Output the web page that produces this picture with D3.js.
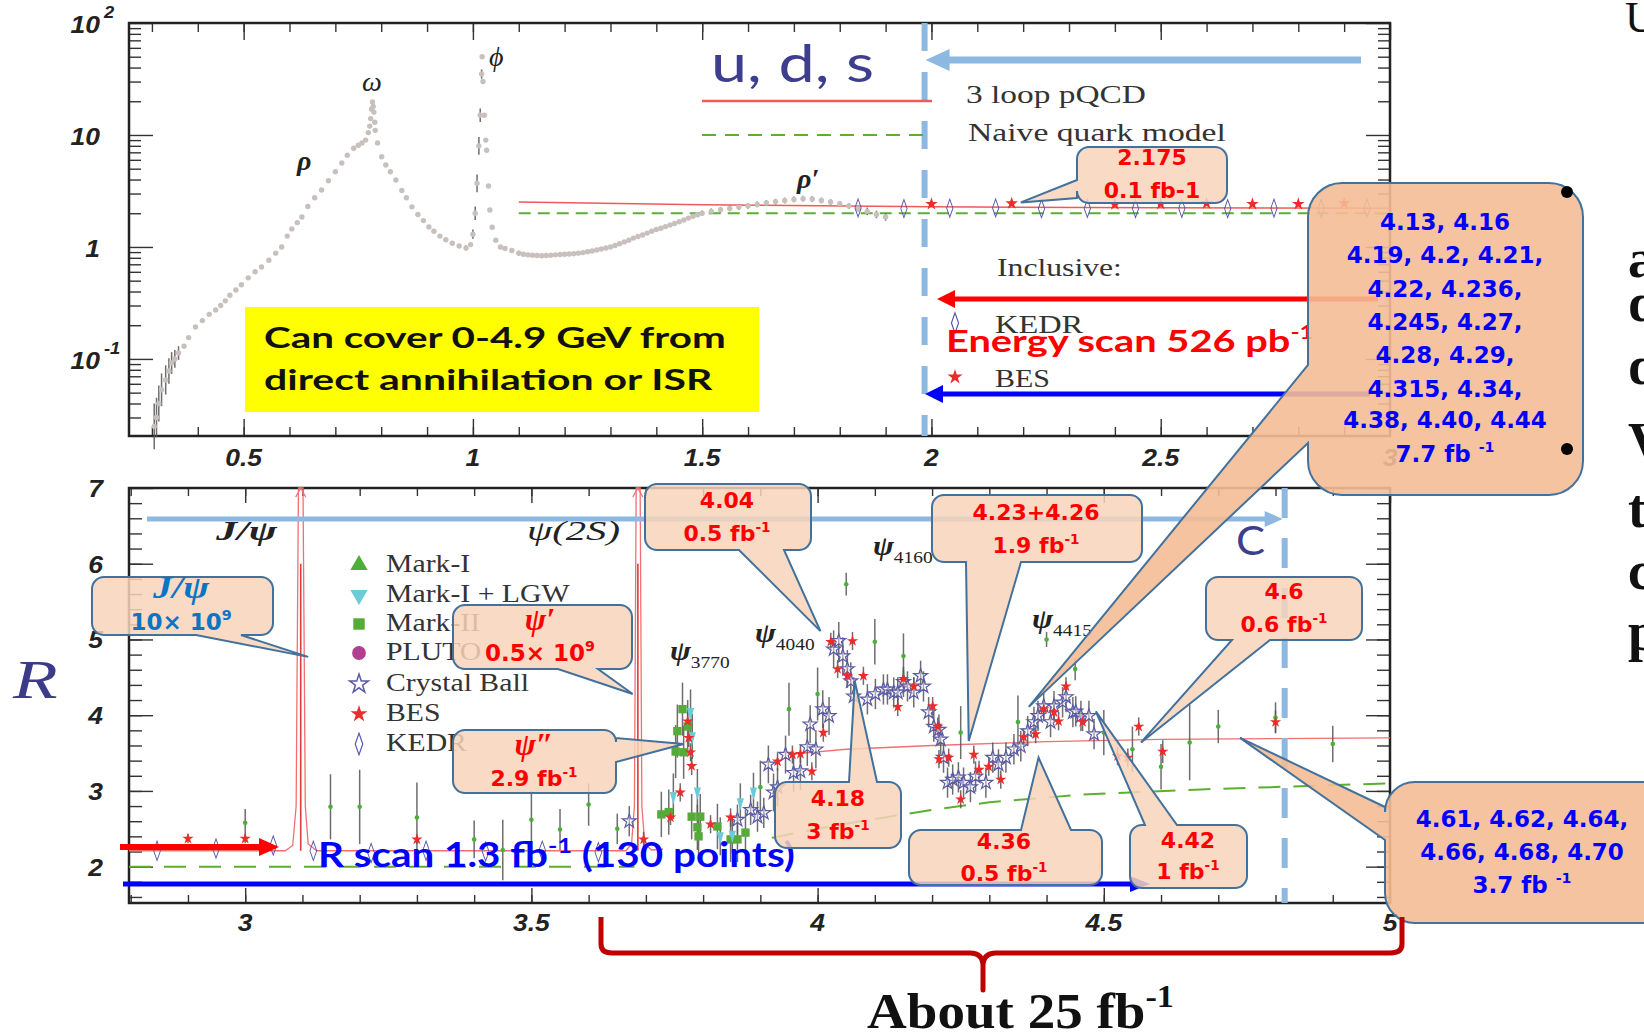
<!DOCTYPE html>
<html>
<head>
<meta charset="utf-8">
<script src="https://cdn.jsdelivr.net/npm/d3@7"></script>
<style>
  body { margin: 0; background: #fff; overflow: hidden; }
  svg { display: block; }
</style>
</head>
<body>
<svg id="chart"></svg>
<script>
// ---------------- data ----------------
// top panel, e+e- -> hadrons below 2 GeV: [E, R, error factor]
var lowMassR = [
  [0.305,0.025,1.6],[0.31,0.03,1.5],[0.315,0.04,1.45],[0.321,0.053,1.4],[0.33,0.065,1.35],
  [0.337,0.078,1.3],[0.343,0.092,1.25],[0.35,0.1,1.2],[0.358,0.113,1.15],[0.37,0.13,1],
  [0.38,0.155,1],[0.395,0.193,1],[0.41,0.22,1],[0.425,0.25,1],[0.439,0.274,1],[0.45,0.3,1],
  [0.46,0.33,1],[0.47,0.37,1],[0.483,0.413,1],[0.495,0.46,1],[0.51,0.53,1],[0.525,0.6,1],
  [0.539,0.663,1],[0.555,0.76,1],[0.57,0.88,1],[0.583,1.0,1],[0.595,1.25,1],[0.605,1.45,1],
  [0.617,1.65,1],[0.627,1.85,1],[0.64,2.3,1],[0.655,2.75,1],[0.67,3.23,1],[0.685,3.9,1],
  [0.70,4.7,1],[0.714,5.62,1],[0.726,6.6,1],[0.74,7.6,1],[0.75,8.1,1],[0.758,8.48,1],
  [0.766,9.0,1],[0.772,10.5,1],[0.775,12,1],[0.777,14,1],[0.779,17,1],[0.781,19.7,1],
  [0.7825,18,1],[0.784,16,1],[0.786,13,1],[0.787,11,1],
  [0.792,8.5,1],[0.801,6.4,1],[0.81,5.4,1],[0.82,4.7,1],[0.832,3.96,1],[0.845,3.2,1],
  [0.855,2.75,1],[0.867,2.28,1],[0.88,1.95,1],[0.892,1.72,1],[0.904,1.51,1],[0.915,1.38,1],
  [0.928,1.25,1],[0.941,1.16,1],[0.955,1.08,1],[0.97,1.02,1],[0.985,0.98,1.05],[0.995,1.05,1],
  [1.0,1.3,1.1],[1.005,2.0,1.15],[1.009,3.7,1.2],[1.013,8,1.2],[1.016,15,1.15],[1.019,35,1.1],
  [1.02,50,1],[1.022,30,1],[1.025,15,1],[1.028,9,1],[1.03,7.3,1],[1.034,3.5,1],[1.037,2.14,1],
  [1.042,1.5,1],[1.05,1.15,1],[1.06,1.0,1],[1.07,0.97,1],[1.085,0.93,1],[1.10,0.88,1.05],
  [1.11,0.86,1],[1.12,0.85,1],[1.13,0.845,1],[1.14,0.84,1],[1.15,0.835,1],[1.16,0.84,1],
  [1.17,0.845,1],[1.18,0.85,1],[1.19,0.855,1],[1.20,0.86,1],[1.21,0.865,1],[1.22,0.87,1],
  [1.23,0.88,1],[1.24,0.89,1],[1.25,0.905,1],[1.26,0.92,1],[1.27,0.94,1],[1.28,0.96,1],
  [1.29,0.98,1],[1.30,1.0,1],[1.31,1.03,1],[1.32,1.07,1],[1.33,1.11,1],[1.34,1.15,1],
  [1.35,1.2,1],[1.36,1.24,1],[1.37,1.28,1],[1.38,1.33,1],[1.39,1.38,1],[1.40,1.43,1],
  [1.41,1.47,1],[1.42,1.52,1],[1.43,1.57,1],[1.44,1.62,1],[1.45,1.68,1],[1.46,1.74,1],
  [1.47,1.81,1],[1.48,1.88,1],[1.49,1.94,1],[1.50,2.0,1.06],[1.52,2.08,1.06],[1.54,2.15,1.06],
  [1.56,2.21,1.06],[1.58,2.27,1.06],[1.60,2.33,1.06],[1.62,2.4,1.06],[1.64,2.47,1.06],
  [1.66,2.54,1.06],[1.68,2.6,1.06],[1.70,2.66,1.06],[1.72,2.7,1.06],[1.74,2.68,1.06],
  [1.76,2.6,1.06],[1.78,2.52,1.06],[1.80,2.43,1.06],[1.82,2.32,1.06],[1.84,2.2,1.06],
  [1.86,2.08,1.08],[1.88,1.95,1.08],[1.90,1.85,1.08]
];
var topKedr = [[1.84,2.23],[1.94,2.2],[2.04,2.22],[2.14,2.23],[2.24,2.2],[2.34,2.21],[2.445,2.2],
  [2.546,2.21],[2.646,2.2],[2.747,2.22],[2.85,2.2],[2.95,2.22]];
var topBes = [[2.0,2.42],[2.175,2.45],[2.4,2.4],[2.5,2.42],[2.6,2.45],[2.7,2.42],[2.8,2.42],[2.9,2.45]];
var pqcdTop = [[1.1,2.52],[1.5,2.38],[2.0,2.28],[2.5,2.24],[3.0,2.22]];
var naiveTop = [[1.1,2.0],[3.0,2.0]];

// bottom panel: [E, R, error]
var markI = [[3.0,2.58,0.18],[3.149,2.79,0.43],[3.2,2.79,0.49],[3.3,2.65,0.46],[3.4,2.36,0.25],
  [3.45,2.22,0.4],[3.5,2.62,0.38],[3.55,2.49,0.27],[3.6,2.82,0.28],[3.65,2.5,0.2],[3.9,3.05,0.35],
  [3.95,4.08,0.35],[4.0,4.28,0.35],[4.05,5.73,0.15],[4.1,4.97,0.3],[4.15,4.78,0.3],[4.25,3.77,0.35],
  [4.35,3.91,0.35],[4.4,5.0,0.1],[4.45,4.61,0.15],[4.5,3.77,0.3],[4.55,3.55,0.3],[4.6,3.32,0.3],
  [4.65,3.64,0.5],[4.7,3.85,0.22],[4.8,3.97,0.2],[4.9,3.62,0.24]];
var markILgw = [[3.748,2.93,0.3],[3.778,4.04,0.3],[3.781,3.72,0.3],[3.79,2.99,0.3],[3.83,2.40,0.25],
  [3.851,2.42,0.25],[3.865,2.85,0.25],[3.888,2.99,0.25]];
var markII = [[3.727,2.69,0.3],[3.74,2.72,0.3],[3.752,3.52,0.35],[3.755,3.79,0.35],[3.764,4.08,0.35],
  [3.766,3.51,0.35],[3.773,3.85,0.35],[3.78,2.66,0.3],[3.79,2.52,0.3],[3.792,2.40,0.3],
  [3.795,2.66,0.3],[3.825,2.53,0.3],[3.848,2.36,0.3],[3.86,2.36,0.3],[3.874,2.45,0.3]];
var crystalBall = [[3.671,2.6,0.2],[3.86,2.62,0.2],[3.883,2.75,0.2],[3.895,2.66,0.2],[3.906,2.71,0.2],
  [3.914,3.35,0.25],[3.923,2.98,0.25],[3.93,3.05,0.25],[3.944,3.48,0.25],[3.958,3.24,0.25],
  [3.97,3.26,0.25],[3.982,3.58,0.25],[3.987,3.88,0.25],[3.997,3.55,0.25],[4.009,4.08,0.25],
  [4.02,3.99,0.25],[4.028,4.87,0.25],[4.037,4.98,0.25],[4.044,4.78,0.25],[4.052,4.61,0.25],
  [4.058,4.45,0.25],[4.063,4.25,0.25],[4.087,4.21,0.2],[4.101,4.28,0.2],[4.115,4.34,0.2],
  [4.122,4.34,0.2],[4.133,4.30,0.2],[4.14,4.30,0.2],[4.15,4.44,0.2],[4.157,4.38,0.2],
  [4.168,4.30,0.2],[4.18,4.52,0.2],[4.185,4.38,0.2],[4.194,4.04,0.2],[4.203,3.85,0.2],
  [4.212,3.81,0.2],[4.215,3.68,0.2],[4.22,3.44,0.2],[4.227,3.11,0.2],[4.236,3.15,0.2],
  [4.246,3.18,0.2],[4.255,3.11,0.2],[4.267,3.05,0.2],[4.276,3.19,0.2],[4.294,3.11,0.2],
  [4.306,3.44,0.2],[4.316,3.35,0.2],[4.329,3.44,0.2],[4.343,3.55,0.2],[4.355,3.59,0.2],
  [4.367,3.79,0.2],[4.378,3.91,0.2],[4.385,3.99,0.2],[4.395,4.12,0.2],[4.407,3.91,0.2],
  [4.413,4.12,0.2],[4.428,4.17,0.2],[4.434,4.24,0.2],[4.446,4.04,0.2],[4.451,4.05,0.2],
  [4.46,3.99,0.2],[4.474,3.99,0.2],[4.483,3.75,0.2]];
var besLow = [[2.9,2.37,0.06],[3.0,2.37,0.06],[3.3,2.36,0.06],[3.696,2.36,0.1],[3.743,2.65,0.1],
  [3.76,2.98,0.12],[3.773,3.92,0.12],[3.775,3.7,0.12],[3.778,3.51,0.12],[3.78,3.33,0.12],
  [3.813,2.56,0.12],[3.848,2.65,0.12],[3.93,3.39,0.12],[3.956,3.48,0.12],[3.97,3.49,0.12],
  [3.99,3.26,0.12],[4.01,3.77,0.12],[4.023,4.97,0.12],[4.035,4.61,0.12],[4.052,4.52,0.12],
  [4.061,4.98,0.12],[4.08,4.52,0.12],[4.14,4.11,0.12],[4.15,4.48,0.12],[4.168,4.38,0.12],
  [4.201,4.12,0.12],[4.21,3.85,0.12],[4.212,3.42,0.12],[4.229,3.44,0.12],[4.25,2.89,0.12],
  [4.273,3.48,0.12],[4.282,3.28,0.12],[4.299,3.32,0.12],[4.32,3.15,0.12],[4.36,3.71,0.12],
  [4.381,3.75,0.12],[4.395,4.08,0.12],[4.413,4.04,0.12],[4.421,3.92,0.12],[4.434,4.38,0.12],
  [4.463,3.91,0.12],[4.524,3.46,0.12],[4.542,3.44,0.12],[4.561,3.85,0.12],[4.603,3.52,0.15],
  [4.8,3.91,0.15]];
var kedrLow = [[2.846,2.21],[2.949,2.24],[3.049,2.28],[3.119,2.21],[3.22,2.18],[3.316,2.21],
  [3.42,2.2],[3.519,2.21],[3.617,2.19]];
var pqcdLow = [[2.797,2.21],[3.07,2.21],[3.083,2.28],[3.089,2.8],[3.093,7.0],[3.101,7.0],[3.105,2.8],
  [3.11,2.3],[3.125,2.21],[3.665,2.21],[3.675,2.3],[3.68,2.8],[3.683,7.0],[3.69,7.0],[3.693,2.8],
  [3.698,2.3],[3.71,2.22],[3.73,2.23]];
var pqcdCharm = [[3.96,3.49],[4.05,3.55],[4.2,3.60],[4.4,3.65],[4.6,3.68],[4.8,3.69],[5.0,3.70]];
var naiveLow = [[2.797,2.0],[3.68,2.0]];
var naiveCharm = [[3.92,2.38],[4.0,2.5],[4.1,2.63],[4.2,2.75],[4.3,2.85],[4.46,2.95],[4.67,3.02],[5.0,3.10]];
var resonances = [3.097, 3.686];

// ticks
var topXTicks = [0.5, 1, 1.5, 2, 2.5, 3];
var topXLabels = ["0.5", "1", "1.5", "2", "2.5", "3"];
var topYTicks = [0.1, 1, 10, 100];
var topYLabels = [["10", "-1"], ["1", ""], ["10", ""], ["10", "2"]];
var lowXTicks = [3, 3.5, 4, 4.5, 5];
var lowXLabels = ["3", "3.5", "4", "4.5", "5"];
var lowYTicks = [2, 3, 4, 5, 6, 7];

var legendNames = ["Mark-I", "Mark-I + LGW", "Mark-II", "PLUTO", "Crystal Ball", "BES", "KEDR"];

// ---------------- setup ----------------
var svg = d3.select("#chart").attr("width", 1644).attr("height", 1034);

var xTop = d3.scaleLinear().domain([0.25, 3.0]).range([129, 1390]);
var yTop = d3.scaleLog().domain([0.0205, 100]).range([436, 23]);
var xLow = d3.scaleLinear().domain([2.797, 5.0]).range([129, 1390]);
var yLow = d3.scaleLinear().domain([1.52, 7.0]).range([903, 488]);

var LB = "#8cb8e2", NAVY = "#3e3e8e", RED = "#ff0000", BLUE = "#0000ff";
var topCut = 1.985, lowCut = 4.816;

// text helper: parts = [[str, "sup"|"sub"|undefined], ...]
function txt(parent, x, y, parts, o) {
  o = Object.assign({font: "Liberation Serif", size: 20, weight: "normal", style: "normal",
    color: "#222", anchor: "start", sx: 1}, o);
  if (typeof parts === "string") parts = [[parts]];
  var g = parent.append("g");
  var t = g.append("text")
    .attr("font-family", o.font).attr("font-size", o.size)
    .attr("font-weight", o.weight).attr("font-style", o.style)
    .attr("fill", o.color).attr("text-anchor", o.anchor);
  var shift = 0;
  parts.forEach(function(p) {
    var s = p[1] === "sup" ? -0.42 * o.size : p[1] === "sub" ? 0.28 * o.size : 0;
    var ts = t.append("tspan").text(p[0]).attr("dy", s - shift);
    if (p[1]) ts.attr("font-size", o.size * 0.62);
    if (p[1] === "sub") ts.attr("font-style", "normal").attr("font-weight", "normal");
    shift = s;
  });
  var sx = o.sx;
  if (o.fit) sx = o.fit / t.node().getBBox().width;
  g.attr("transform", "translate(" + x + "," + y + ") scale(" + sx + ",1)");
  return g;
}

function tickSet(axis, vals, len, tr) {
  var g = svg.append("g").attr("transform", tr)
    .call(axis.tickValues(vals).tickSize(-len).tickSizeOuter(0).tickFormat(""));
  g.select(".domain").remove();
  g.selectAll("text").remove();
  g.selectAll("line").attr("stroke", "#333").attr("stroke-width", 1.4);
}

function hArrow(x1, x2, y, color, w, hl, hw) {
  var dir = x1 > x2 ? 1 : -1;
  svg.append("line").attr("x1", x1).attr("x2", x2 + dir * hl * 0.8)
    .attr("y1", y).attr("y2", y).attr("stroke", color).attr("stroke-width", w);
  svg.append("path")
    .attr("d", "M" + x2 + "," + y + "L" + (x2 + dir * hl) + "," + (y - hw) +
      "L" + (x2 + dir * hl) + "," + (y + hw) + "Z")
    .attr("fill", color);
}

function errBars(data, xs, ys, isLog) {
  svg.append("g").selectAll("line").data(data.filter(function(d) { return isLog ? d[2] > 1 : d[2] > 0; }))
    .join("line")
    .attr("x1", function(d) { return xs(d[0]); }).attr("x2", function(d) { return xs(d[0]); })
    .attr("y1", function(d) { return ys(isLog ? d[1] * d[2] : d[1] + d[2]); })
    .attr("y2", function(d) { return ys(isLog ? d[1] / d[2] : d[1] - d[2]); })
    .attr("stroke", "#555").attr("stroke-width", 1.5).attr("opacity", 0.85);
}

function symbols(data, xs, ys, type, size, fill, stroke, sy) {
  svg.append("g").selectAll("path").data(data).join("path")
    .attr("d", d3.symbol().type(type).size(size))
    .attr("transform", function(d) {
      return "translate(" + xs(d[0]) + "," + ys(d[1]) + ")" + (sy ? " scale(0.7," + sy + ")" : "");
    })
    .attr("fill", fill).attr("stroke", stroke || "none").attr("stroke-width", 1.2);
}

// ---------------- frames & ticks ----------------
var topXMinor = d3.range(3, 30).map(function(i) { return i / 10; });
var topYMinor = [];
[0.01, 0.1, 1, 10].forEach(function(dec) {
  d3.range(2, 10).forEach(function(k) { if (k * dec > 0.0205) topYMinor.push(k * dec); });
});
var lowXMinor = d3.range(28, 50).map(function(i) { return i / 10; });
var lowYMinor = d3.range(8, 35).map(function(i) { return i / 5; });

tickSet(d3.axisBottom(xTop), topXMinor, 9, "translate(0,436)");
tickSet(d3.axisBottom(xTop), topXTicks, 17, "translate(0,436)");
tickSet(d3.axisTop(xTop), topXMinor, 9, "translate(0,23)");
tickSet(d3.axisTop(xTop), topXTicks, 17, "translate(0,23)");
tickSet(d3.axisLeft(yTop), topYMinor, 12, "translate(129,0)");
tickSet(d3.axisLeft(yTop), topYTicks, 24, "translate(129,0)");
tickSet(d3.axisRight(yTop), topYMinor, 12, "translate(1390,0)");
tickSet(d3.axisRight(yTop), topYTicks, 24, "translate(1390,0)");

tickSet(d3.axisBottom(xLow), lowXMinor, 8, "translate(0,903)");
tickSet(d3.axisBottom(xLow), lowXTicks, 15, "translate(0,903)");
tickSet(d3.axisTop(xLow), lowXMinor, 8, "translate(0,488)");
tickSet(d3.axisTop(xLow), lowXTicks, 15, "translate(0,488)");
tickSet(d3.axisLeft(yLow), lowYMinor, 13, "translate(129,0)");
tickSet(d3.axisLeft(yLow), lowYTicks, 24, "translate(129,0)");
tickSet(d3.axisRight(yLow), lowYMinor, 13, "translate(1390,0)");
tickSet(d3.axisRight(yLow), lowYTicks, 24, "translate(1390,0)");

svg.append("rect").attr("x", 129).attr("y", 23).attr("width", 1261).attr("height", 413)
  .attr("fill", "none").attr("stroke", "#222").attr("stroke-width", 2.5);
svg.append("rect").attr("x", 129).attr("y", 488).attr("width", 1261).attr("height", 415)
  .attr("fill", "none").attr("stroke", "#222").attr("stroke-width", 2.5);

// tick labels
var tickFont = {font: "Liberation Sans", weight: "bold", style: "italic", size: 23, sx: 1.15, color: "#222"};
topXTicks.forEach(function(v, i) {
  txt(svg, xTop(v), 466, topXLabels[i], Object.assign({}, tickFont, {anchor: "middle"}));
});
topYTicks.forEach(function(v, i) {
  txt(svg, 100, yTop(v) + 10, topYLabels[i][0], Object.assign({}, tickFont, {anchor: "end"}));
  if (topYLabels[i][1]) txt(svg, 104, yTop(v) - 5, topYLabels[i][1], Object.assign({}, tickFont, {size: 16}));
});
lowXTicks.forEach(function(v, i) {
  txt(svg, xLow(v), 931, lowXLabels[i], Object.assign({}, tickFont, {anchor: "middle"}));
});
lowYTicks.forEach(function(v) {
  txt(svg, 103, yLow(v) + 9, String(v), Object.assign({}, tickFont, {anchor: "end"}));
});
txt(svg, 13, 698, "R", {font: "Liberation Serif", style: "italic", size: 54, fit: 46, color: "#3b3b88"});

// ---------------- top panel data ----------------
var lineTop = d3.line().x(function(d) { return xTop(d[0]); }).y(function(d) { return yTop(d[1]); });
svg.append("path").attr("d", lineTop(naiveTop)).attr("fill", "none")
  .attr("stroke", "#5cb030").attr("stroke-width", 2).attr("stroke-dasharray", "12,7");
svg.append("path").attr("d", lineTop(pqcdTop)).attr("fill", "none")
  .attr("stroke", "#f05a5a").attr("stroke-width", 1.5);
errBars(lowMassR, xTop, yTop, true);
svg.append("g").selectAll("circle").data(lowMassR).join("circle")
  .attr("cx", function(d) { return xTop(d[0]); }).attr("cy", function(d) { return yTop(d[1]); })
  .attr("r", 2.7).attr("fill", "#c8c0bc");
symbols(topKedr, xTop, yTop, d3.symbolDiamond, 70, "none", "#5656aa", 1.15);
symbols(topBes, xTop, yTop, d3.symbolStar, 50, "#ee2b2b");

// ---------------- bottom panel data ----------------
var lineLow = d3.line().x(function(d) { return xLow(d[0]); }).y(function(d) { return yLow(d[1]); });
svg.append("path").attr("d", lineLow(naiveLow)).attr("fill", "none")
  .attr("stroke", "#5cb030").attr("stroke-width", 2).attr("stroke-dasharray", "22,13");
svg.append("path").attr("d", lineLow(naiveCharm)).attr("fill", "none")
  .attr("stroke", "#5cb030").attr("stroke-width", 2).attr("stroke-dasharray", "22,13");
svg.append("path").attr("d", lineLow(pqcdLow)).attr("fill", "none")
  .attr("stroke", "#f07070").attr("stroke-width", 1.3);
svg.append("path").attr("d", lineLow(pqcdCharm)).attr("fill", "none")
  .attr("stroke", "#f07070").attr("stroke-width", 1.3);
resonances.forEach(function(m) {
  svg.append("line").attr("x1", xLow(m)).attr("x2", xLow(m))
    .attr("y1", yLow(2.21)).attr("y2", yLow(6.0)).attr("stroke", "#e03a3a").attr("stroke-width", 1.6);
  var ax = xLow(m), ay = yLow(7.0);
  svg.append("path").attr("d", "M" + (ax - 5) + "," + (ay + 9) + "L" + ax + "," + ay + "L" + (ax + 5) + "," + (ay + 9))
    .attr("fill", "none").attr("stroke", "#f07070").attr("stroke-width", 1.3);
});

[markI, markILgw, markII, crystalBall, besLow].forEach(function(s) { errBars(s, xLow, yLow, false); });
svg.append("g").selectAll("circle").data(markI).join("circle")
  .attr("cx", function(d) { return xLow(d[0]); }).attr("cy", function(d) { return yLow(d[1]); })
  .attr("r", 2.3).attr("fill", "#4caf3a");
symbols(markII, xLow, yLow, d3.symbolSquare, 70, "#55aa3a");
symbols(markILgw, xLow, yLow, d3.symbolTriangle, 45, "#6ccbd6", null, -1.4);
symbols(crystalBall, xLow, yLow, d3.symbolStar, 60, "rgba(255,255,255,0.4)", "#5a5aa5");
symbols(besLow, xLow, yLow, d3.symbolStar, 40, "#ee2b2b");
symbols(kedrLow, xLow, yLow, d3.symbolDiamond, 80, "none", "#5656aa", 1.15);

// ---------------- guide lines & arrows ----------------
svg.append("line").attr("x1", xTop(topCut)).attr("x2", xTop(topCut)).attr("y1", 23).attr("y2", 436)
  .attr("stroke", LB).attr("stroke-width", 6).attr("stroke-dasharray", "28,21");
svg.append("line").attr("x1", xLow(lowCut)).attr("x2", xLow(lowCut)).attr("y1", 488).attr("y2", 903)
  .attr("stroke", LB).attr("stroke-width", 6).attr("stroke-dasharray", "30,20");
hArrow(1361, xTop(topCut) + 1, 60, LB, 7, 24, 11);
hArrow(1378, 937, 299, RED, 5, 18, 9);
hArrow(1370, 925, 394, BLUE, 5, 18, 9);
hArrow(147, xLow(lowCut) - 2, 519, LB, 5, 18, 8);
hArrow(120, 279, 847, RED, 6, 20, 9);
hArrow(123, 1150, 884, BLUE, 5, 20, 8);

// ---------------- labels ----------------
var greek = {font: "Liberation Serif", style: "italic", size: 28, color: "#222"};
txt(svg, 362, 91, "\u03c9", greek);
txt(svg, 489, 66, "\u03d5", greek);
txt(svg, 297, 170, "\u03c1", Object.assign({}, greek, {weight: "bold"}));
txt(svg, 797, 188, "\u03c1\u2032", Object.assign({}, greek, {weight: "bold"}));
txt(svg, 216, 540, "J/\u03c8", Object.assign({}, greek, {weight: "bold", fit: 63}));
txt(svg, 527, 540, "\u03c8(2S)", Object.assign({}, greek, {fit: 93}));
txt(svg, 670, 660, [["\u03c8"], ["3770", "sub"]], Object.assign({}, greek, {weight: "bold", fit: 60}));
txt(svg, 755, 642, [["\u03c8"], ["4040", "sub"]], Object.assign({}, greek, {weight: "bold", fit: 60}));
txt(svg, 873, 555, [["\u03c8"], ["4160", "sub"]], Object.assign({}, greek, {weight: "bold", fit: 60}));
txt(svg, 1032, 628, [["\u03c8"], ["4415", "sub"]], Object.assign({}, greek, {weight: "bold", fit: 60}));

// top legend
svg.append("line").attr("x1", 702).attr("x2", 932).attr("y1", 101).attr("y2", 101)
  .attr("stroke", "#f05a5a").attr("stroke-width", 2.5);
svg.append("line").attr("x1", 702).attr("x2", 932).attr("y1", 135).attr("y2", 135)
  .attr("stroke", "#5cb030").attr("stroke-width", 2.2).attr("stroke-dasharray", "14,9");
var serif = {font: "Liberation Serif", size: 26, color: "#333"};
txt(svg, 966, 103, "3 loop pQCD", Object.assign({}, serif, {fit: 180}));
txt(svg, 968, 141, "Naive quark model", Object.assign({}, serif, {fit: 258}));
txt(svg, 997, 276, "Inclusive:", Object.assign({}, serif, {fit: 125}));
txt(svg, 995, 333, "KEDR", Object.assign({}, serif, {fit: 89}));
txt(svg, 995, 387, "BES", Object.assign({}, serif, {fit: 55}));
svg.append("path").attr("d", d3.symbol().type(d3.symbolDiamond).size(90))
  .attr("transform", "translate(955,323) scale(0.7,1.15)").attr("fill", "none").attr("stroke", "#5656aa").attr("stroke-width", 1.5);
svg.append("path").attr("d", d3.symbol().type(d3.symbolStar).size(70))
  .attr("transform", "translate(955,377)").attr("fill", "#ee2b2b");

txt(svg, 711, 82, "u,  d,  s", {font: "Lato", size: 52, color: NAVY, fit: 163});
txt(svg, 1236, 555, "C", {font: "Lato", size: 40, color: NAVY, fit: 29});

// bottom legend
var legY = [572, 602, 631, 660, 691, 721, 751];
var legMarks = [
  [d3.symbolTriangle, 130, "#4caf3a", "none", 1],
  [d3.symbolTriangle, 130, "#6ccbd6", "none", -1],
  [d3.symbolSquare, 130, "#55aa3a", "none", 1],
  [d3.symbolCircle, 150, "#b0408f", "none", 1],
  [d3.symbolStar, 110, "none", "#5a5aa5", 1],
  [d3.symbolStar, 90, "#ee2b2b", "none", 1],
  [d3.symbolDiamond, 100, "none", "#5656aa", 1]
];
legendNames.forEach(function(name, i) {
  var m = legMarks[i];
  svg.append("path").attr("d", d3.symbol().type(m[0]).size(m[1]))
    .attr("transform", "translate(359," + (legY[i] - 7) + ")" + (m[4] < 0 ? " scale(1,-1)" : "") + (i === 6 ? " scale(0.7,1.15)" : ""))
    .attr("fill", m[2]).attr("stroke", m[3]).attr("stroke-width", 1.5);
  txt(svg, 386, legY[i], name, Object.assign({}, serif, {size: 25, sx: 1.19}));
});

// big overlay texts
txt(svg, 946, 352, [["Energy scan 526 pb"], ["-1", "sup"]], {font: "Lato", weight: "bold", size: 31, color: RED, fit: 368});
svg.append("rect").attr("x", 245).attr("y", 307).attr("width", 514).attr("height", 105).attr("fill", "#ffff00");
txt(svg, 264, 348, "Can cover 0-4.9 GeV from", {font: "Lato", weight: "bold", size: 29, color: "#111", fit: 462});
txt(svg, 264, 390, "direct annihilation or ISR", {font: "Lato", weight: "bold", size: 29, color: "#111", fit: 449});
txt(svg, 318, 867, [["R scan 1.3 fb"], ["-1", "sup"], [" (130 points)"]], {font: "Lato", weight: "bold", size: 34, color: BLUE, fit: 477});

// ---------------- callouts ----------------
function calloutPath(x, y, w, h, r, side, a, b, tx, ty) {
  var p = "M" + (x + r) + "," + y;
  if (side === "top") p += "L" + a + "," + y + "L" + tx + "," + ty + "L" + b + "," + y;
  p += "L" + (x + w - r) + "," + y + "A" + r + "," + r + " 0 0 1 " + (x + w) + "," + (y + r);
  if (side === "right") p += "L" + (x + w) + "," + a + "L" + tx + "," + ty + "L" + (x + w) + "," + b;
  p += "L" + (x + w) + "," + (y + h - r) + "A" + r + "," + r + " 0 0 1 " + (x + w - r) + "," + (y + h);
  if (side === "bottom") p += "L" + b + "," + (y + h) + "L" + tx + "," + ty + "L" + a + "," + (y + h);
  p += "L" + (x + r) + "," + (y + h) + "A" + r + "," + r + " 0 0 1 " + x + "," + (y + h - r);
  if (side === "left") p += "L" + x + "," + b + "L" + tx + "," + ty + "L" + x + "," + a;
  p += "L" + x + "," + (y + r) + "A" + r + "," + r + " 0 0 1 " + (x + r) + "," + y + "Z";
  return p;
}

var cf = {font: "DejaVu Sans", weight: "bold", size: 22, anchor: "middle", color: RED};
var bf = {font: "DejaVu Sans", weight: "bold", size: 23, anchor: "middle", color: BLUE};
var gf = {font: "Liberation Serif", weight: "bold", style: "italic", size: 32, anchor: "middle", color: RED};
var notes = [
  {tip: ["top", 2.195, 2.5], box: [1077, 147, 150, 56, 12], side: "left", a: 180, b: 198, big: false, cx: 1152,
   lines: [["2.175", 165, cf], ["0.1 fb-1", 198, cf]]},
  {tip: ["low", 4.369, 4.11], box: [1308, 183, 275, 312, 34], side: "left", a: 365, b: 443, big: true, cx: 1445,
   lines: [["4.13, 4.16", 230, bf], ["4.19, 4.2, 4.21,", 263, bf], ["4.22, 4.236,", 297, bf],
     ["4.245, 4.27,", 330, bf], ["4.28, 4.29,", 363, bf], ["4.315, 4.34,", 397, bf],
     ["4.38, 4.40, 4.44", 428, bf], [[["7.7 fb "], ["-1", "sup"]], 462, bf]]},
  {tip: ["low", 3.11, 4.77], box: [92, 577, 181, 58, 12], side: "bottom", a: 196, b: 241, big: false, cx: 181,
   lines: [["J/\u03c8", 598, Object.assign({}, gf, {color: "#0b75c5", fit: 58})],
     [[["10\u00d7 10"], ["9", "sup"]], 630, Object.assign({}, cf, {color: "#0b75c5", size: 23})]]},
  {tip: ["low", 3.677, 4.28], box: [453, 605, 179, 64, 12], side: "bottom", a: 558, b: 598, big: false, cx: 540,
   lines: [["\u03c8\u2032", 630, gf], [[["0.5\u00d7 10"], ["9", "sup"]], 661, Object.assign({}, cf, {size: 23})]]},
  {tip: ["low", 3.766, 3.62], box: [453, 730, 163, 63, 12], side: "right", a: 738, b: 762, big: false, cx: 534,
   lines: [["\u03c8\u2033", 755, gf], [[["2.9 fb"], ["-1", "sup"]], 786, cf]]},
  {tip: ["low", 4.005, 5.11], box: [645, 484, 166, 66, 12], side: "bottom", a: 739, b: 784, big: false, cx: 727,
   lines: [["4.04", 508, cf], [[["0.5 fb"], ["-1", "sup"]], 541, cf]]},
  {tip: ["low", 4.264, 3.66], box: [932, 495, 210, 67, 12], side: "bottom", a: 966, b: 1021, big: false, cx: 1036,
   lines: [["4.23+4.26", 520, cf], [[["1.9 fb"], ["-1", "sup"]], 553, cf]]},
  {tip: ["low", 4.065, 4.45], box: [775, 782, 126, 66, 12], side: "top", a: 849, b: 877, big: false, cx: 838,
   lines: [["4.18", 806, cf], [[["3 fb"], ["-1", "sup"]], 839, cf]]},
  {tip: ["low", 4.386, 3.44], box: [909, 830, 193, 55, 12], side: "top", a: 1021, b: 1071, big: false, cx: 1004,
   lines: [["4.36", 849, cf], [[["0.5 fb"], ["-1", "sup"]], 881, cf]]},
  {tip: ["low", 4.486, 4.05], box: [1130, 825, 117, 63, 12], side: "top", a: 1145, b: 1177, big: false, cx: 1188,
   lines: [["4.42", 848, cf], [[["1 fb"], ["-1", "sup"]], 879, cf]]},
  {tip: ["low", 4.565, 3.64], box: [1206, 577, 156, 63, 12], side: "bottom", a: 1232, b: 1270, big: false, cx: 1284,
   lines: [["4.6", 599, cf], [[["0.6 fb"], ["-1", "sup"]], 632, cf]]},
  {tip: ["low", 4.738, 3.70], box: [1385, 782, 300, 141, 30], side: "left", a: 807, b: 840, big: true, cx: 1522,
   lines: [["4.61, 4.62, 4.64,", 827, bf], ["4.66, 4.68, 4.70", 860, bf], [[["3.7 fb "], ["-1", "sup"]], 893, bf]]}
];

notes.forEach(function(n) {
  var tx = n.tip[0] === "top" ? xTop(n.tip[1]) : xLow(n.tip[1]);
  var ty = n.tip[0] === "top" ? yTop(n.tip[2]) : yLow(n.tip[2]);
  var b = n.box;
  svg.append("path").attr("d", calloutPath(b[0], b[1], b[2], b[3], b[4], n.side, n.a, n.b, tx, ty))
    .attr("fill", n.big ? "#f4bd95" : "#f8d4bb").attr("fill-opacity", n.big ? 0.9 : 0.85)
    .attr("stroke", "#41719c").attr("stroke-width", 2);
  n.lines.forEach(function(l) { txt(svg, n.cx, l[1], l[0], l[2]); });
});

// ---------------- bracket & slide remnants ----------------
svg.append("path")
  .attr("d", "M601,917 L601,944 Q601,953 612,953 L970,953 Q983,953 983,966 L983,990 L983,966 Q983,953 996,953 L1390,953 Q1402,953 1402,944 L1402,917")
  .attr("fill", "none").attr("stroke", "#c00000").attr("stroke-width", 5).attr("stroke-linejoin", "round");
txt(svg, 867, 1028, [["About 25 fb"], ["-1", "sup"]], {font: "Liberation Serif", weight: "bold", size: 50, color: "#111", fit: 307});

txt(svg, 1625, 32, "U", {font: "Liberation Serif", size: 44, color: "#111"});
[["a", 277], ["d", 321], ["d", 384], ["V", 460], ["t", 527], ["c", 589], ["p", 650]].forEach(function(l) {
  txt(svg, 1628, l[1], l[0], {font: "Liberation Serif", weight: "bold", size: 54, color: "#111"});
});
svg.append("circle").attr("cx", 1567).attr("cy", 192).attr("r", 6).attr("fill", "#000");
svg.append("circle").attr("cx", 1567).attr("cy", 449).attr("r", 6).attr("fill", "#000");
</script>
</body>
</html>
